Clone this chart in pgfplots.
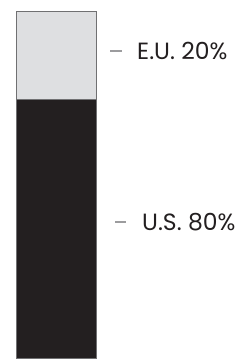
\documentclass[border=0pt]{standalone}
\usepackage{pgfplots}
\pgfplotsset{compat=1.18}
\usepackage{fontspec}
\setmainfont{Poppins}
\definecolor{eugray}{HTML}{DEDFE1}
\definecolor{usdark}{HTML}{231F20}
\definecolor{edge}{HTML}{707072}
\definecolor{dashc}{HTML}{9C9C9E}
\begin{document}
\begin{tikzpicture}[x=1pt,y=1pt]
\useasboundingbox (0,0) rectangle (250,359);
\begin{axis}[
  at={(16pt,1pt)}, anchor=south west,
  scale only axis, width=80pt, height=347pt,
  xmin=-0.5, xmax=0.5, ymin=21.1, ymax=100,
  hide axis, clip=false,
  ybar stacked, bar width=80pt,
]
\addplot[fill=usdark, draw=edge, line width=0.8pt] coordinates {(0,80)};
\addplot[fill=eugray, draw=edge, line width=0.8pt] coordinates {(0,20)};
\draw[dashc, line width=2pt] (axis cs:0.675,90.9) -- (axis cs:0.825,90.9);
\node[anchor=west, font=\fontsize{23.5}{28}\selectfont, text=usdark, inner sep=0pt] at (axis cs:0.5,90.9) [xshift=41pt] {E.U. 20\%};
\draw[dashc, line width=2pt] (axis cs:0.7375,52.0) -- (axis cs:0.875,52.0);
\node[anchor=west, font=\fontsize{23.5}{28}\selectfont, text=usdark, inner sep=0pt] at (axis cs:0.5,52.0) [xshift=46pt] {U.S. 80\%};
\end{axis}
\end{tikzpicture}
\end{document}
